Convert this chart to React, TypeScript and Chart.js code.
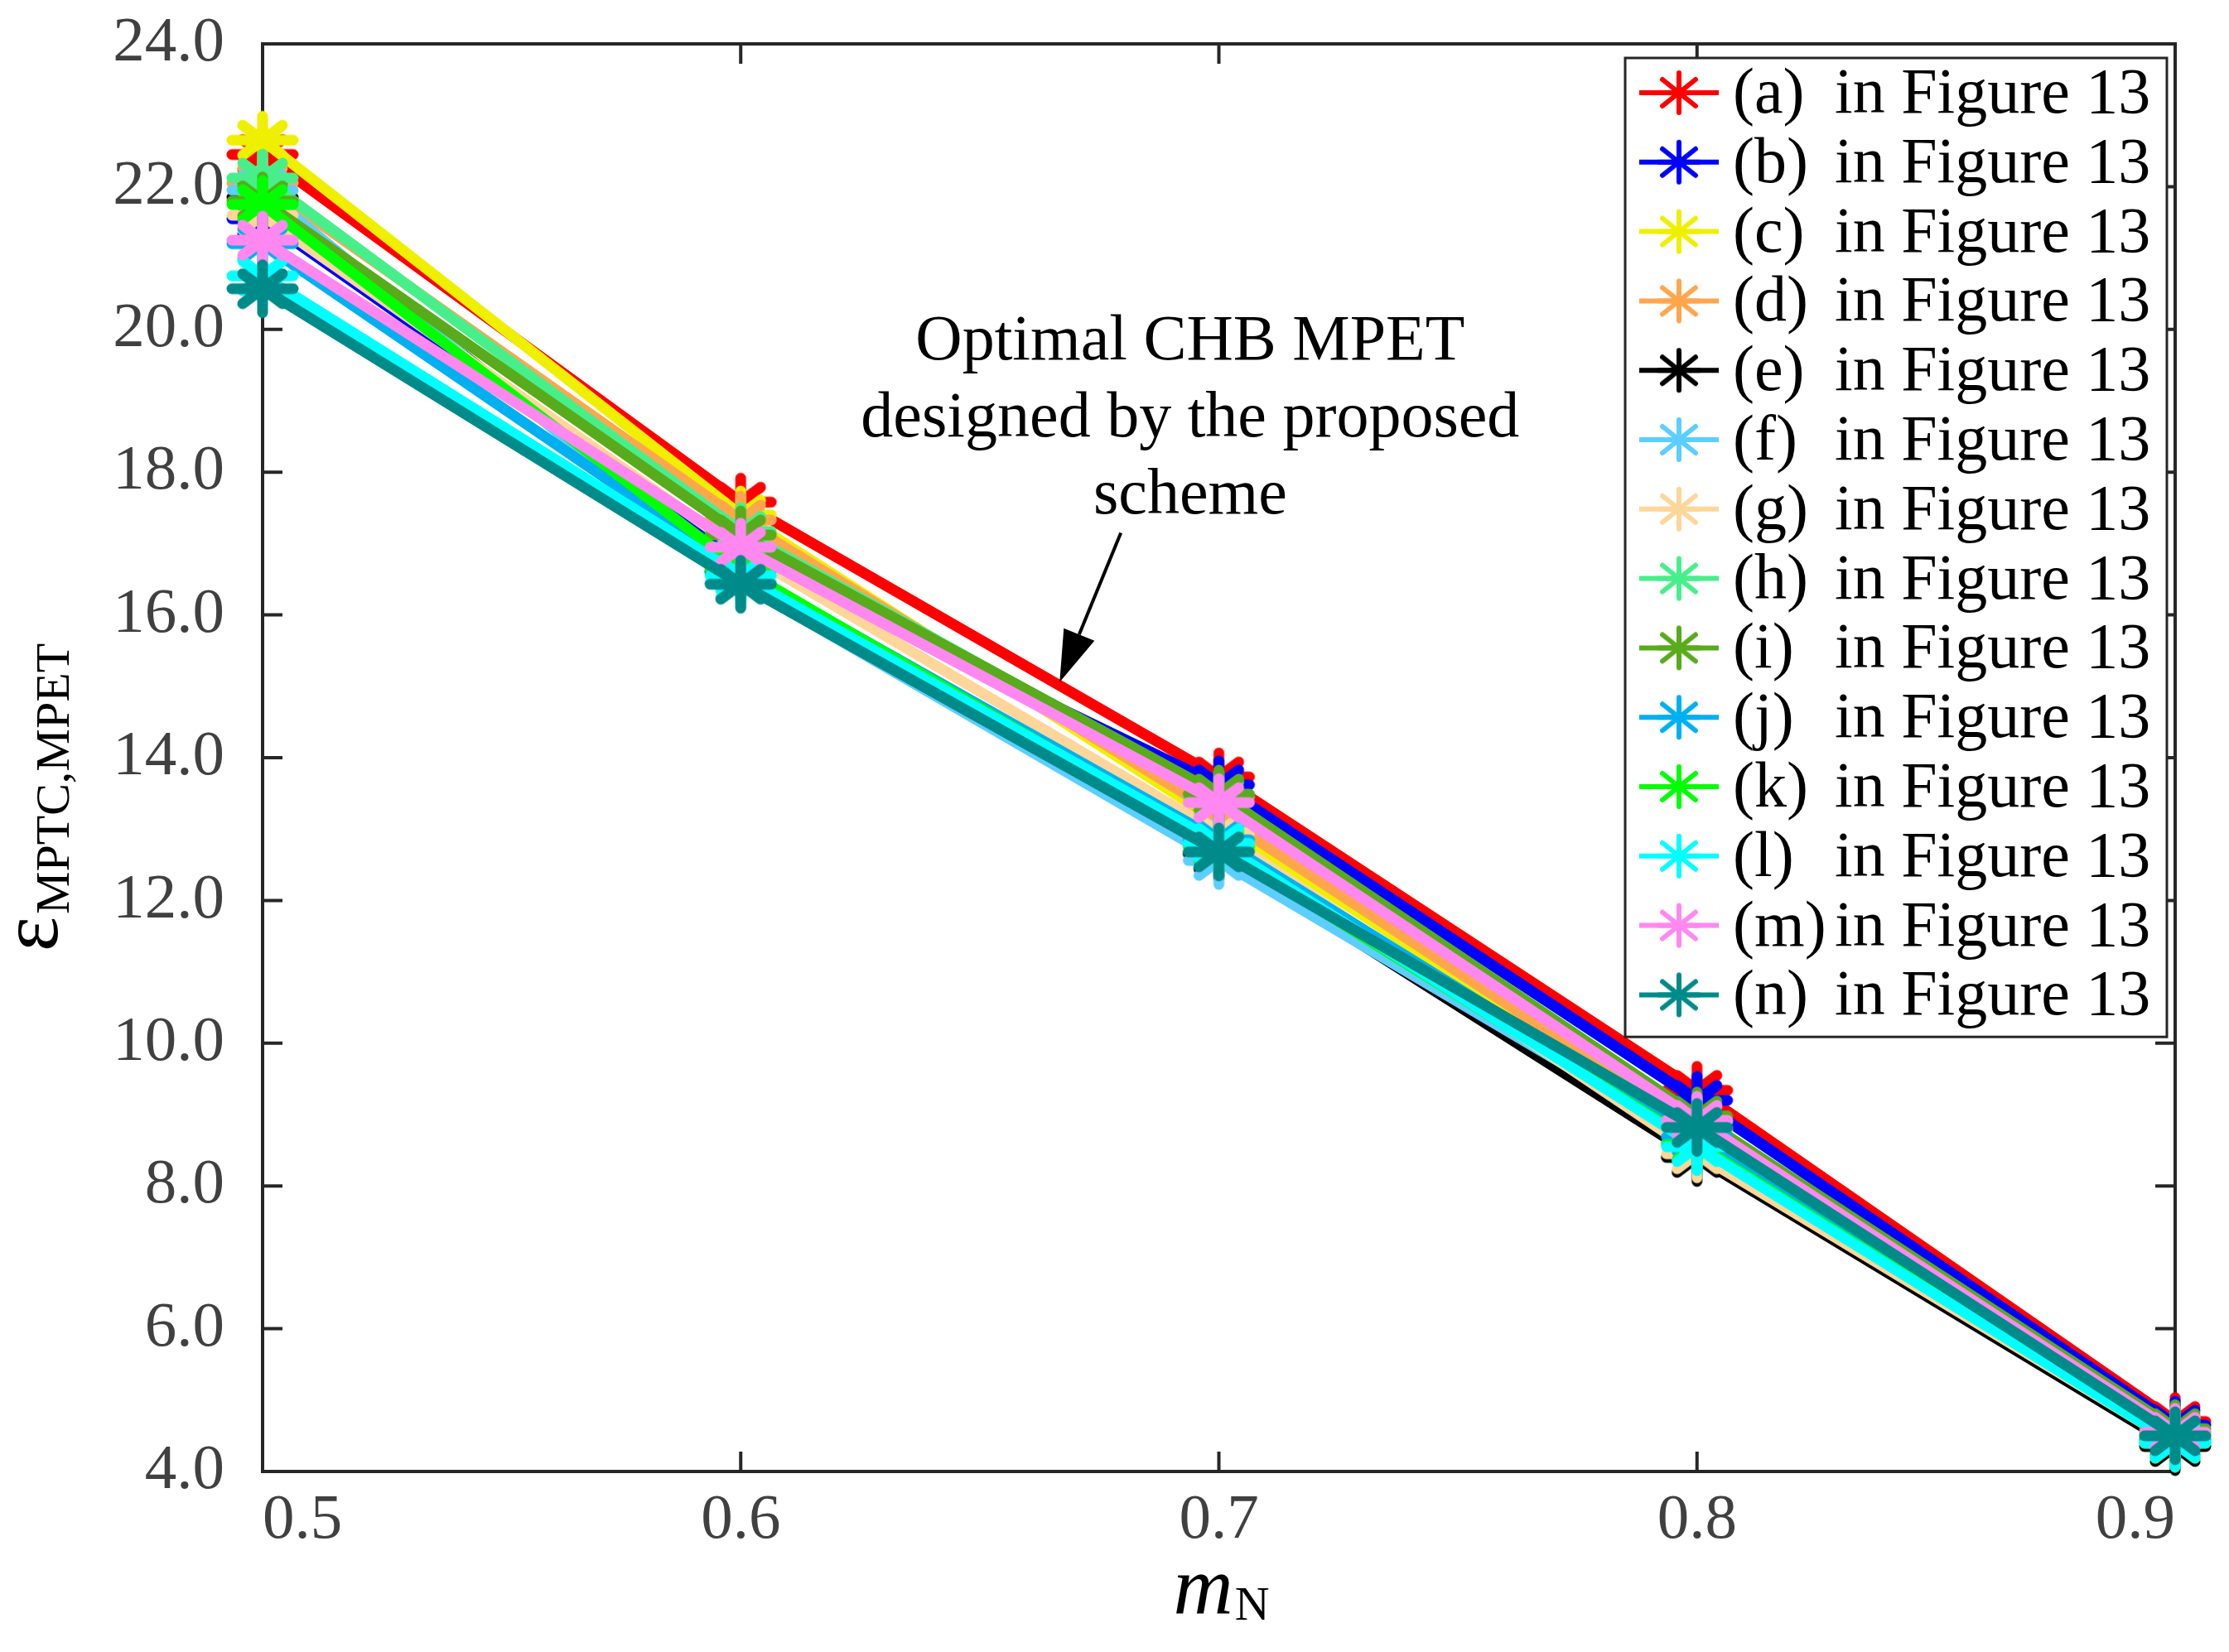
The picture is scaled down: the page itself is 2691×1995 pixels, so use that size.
import { useEffect, useRef } from 'react';
import { Chart, registerables } from 'chart.js';

Chart.register(...registerables);

// x positions (modulation index m_N)
const mN = [0.5, 0.6, 0.7, 0.8, 0.9];
const yTickValues = [4, 6, 8, 10, 12, 14, 16, 18, 20, 22, 24];

// epsilon_MPTC,MPET for each design of Figure 13
const curveA = [22.45, 17.58, 13.73, 9.34, 4.7];
const curveB = [21.55, 16.85, 13.62, 9.2, 4.65];
const curveC = [22.65, 17.4, 13.1, 8.75, 4.5];
const curveD = [22.05, 17.33, 13.2, 8.8, 4.55];
const curveE = [21.85, 16.6, 12.65, 8.4, 4.35];
const curveF = [21.95, 16.45, 12.56, 8.6, 4.45];
const curveG = [21.6, 16.9, 12.95, 8.45, 4.4];
const curveH = [22.12, 17.17, 13.45, 8.9, 4.55];
const curveI = [21.8, 17.12, 13.49, 8.98, 4.6];
const curveJ = [21.2, 16.62, 12.85, 8.69, 4.45];
const curveK = [21.75, 16.65, 12.75, 8.58, 4.4];
const curveL = [20.75, 16.55, 12.8, 8.55, 4.4];
const curveM = [21.25, 16.95, 13.37, 8.92, 4.55];
const curveN = [20.57, 16.43, 12.68, 8.82, 4.5];

const curves = [curveA, curveB, curveC, curveD, curveE, curveF, curveG, curveH, curveI, curveJ, curveK, curveL, curveM, curveN];
const seriesNames = ['(a)', '(b)', '(c)', '(d)', '(e)', '(f)', '(g)', '(h)', '(i)', '(j)', '(k)', '(l)', '(m)', '(n)'];
const legendSuffix = 'in Figure 13';

const colors = [
  '#ff0000', '#0000ff', '#efef00', '#ffa64d', '#000000', '#5bcfff', '#ffd699',
  '#47ef8b', '#58ab1b', '#00b0f0', '#00ff00', '#00ffff', '#ff88f0', '#008b8b',
];

// annotation (data coordinates)
const noteLines = ['Optimal CHB MPET', 'designed by the proposed', 'scheme'];
const noteAnchor = [0.694, 19.58];
const arrowTail = [0.6795, 17.15];
const arrowTip = [0.6667, 15.06];

const SERIF = '"Liberation Serif", "Times New Roman", serif';
const AXIS = '#262626';

function makeAsterisk(color: string, hx: number, vy: number, dx: number, dy: number, lw: number) {
  const pad = Math.ceil(lw / 2) + 1;
  const c = document.createElement('canvas');
  c.width = 2 * (hx + pad);
  c.height = 2 * (vy + pad);
  const g = c.getContext('2d')!;
  g.translate(c.width / 2, c.height / 2);
  g.strokeStyle = color;
  g.lineWidth = lw;
  g.lineCap = 'round';
  g.beginPath();
  g.moveTo(-hx, 0); g.lineTo(hx, 0);
  g.moveTo(0, -vy); g.lineTo(0, vy);
  g.moveTo(-dx, -dy); g.lineTo(dx, dy);
  g.moveTo(-dx, dy); g.lineTo(dx, -dy);
  g.stroke();
  return c;
}

export default function App() {
  const canvasRef = useRef<HTMLCanvasElement>(null);
  const chartRef = useRef<Chart | null>(null);

  useEffect(() => {
    if (!canvasRef.current) return;
    if (chartRef.current) chartRef.current.destroy();
    const ctx = canvasRef.current.getContext('2d');
    if (!ctx) return;

    const plotStars = colors.map(c => makeAsterisk(c, 37, 29, 24, 18, 13));
    const legendStars = colors.map(c => makeAsterisk(c, 24, 24, 20, 16, 6));

    // box + inward ticks, drawn under the curves
    const framePlugin = {
      id: 'frame',
      beforeDatasetsDraw(chart: any) {
        const { ctx: c, chartArea: a, scales } = chart;
        const tl = 24;
        c.save();
        c.strokeStyle = AXIS;
        c.lineWidth = 4;
        c.strokeRect(a.left, a.top, a.right - a.left, a.bottom - a.top);
        c.beginPath();
        mN.forEach(v => {
          const px = scales.x.getPixelForValue(v);
          c.moveTo(px, a.bottom); c.lineTo(px, a.bottom - tl);
          c.moveTo(px, a.top); c.lineTo(px, a.top + tl);
        });
        yTickValues.forEach(v => {
          const py = scales.y.getPixelForValue(v);
          c.moveTo(a.left, py); c.lineTo(a.left + tl, py);
          c.moveTo(a.right, py); c.lineTo(a.right - tl, py);
        });
        c.stroke();
        c.restore();
      },
    };

    // legend box in the upper right corner
    const legendPlugin = {
      id: 'boxLegend',
      afterDatasetsDraw(chart: any) {
        const { ctx: c, chartArea: a } = chart;
        const right = a.right - 10;
        const left = right - 654;
        const top = a.top + 17;
        const rowH = 83.8;
        const n = chart.data.datasets.length;
        const bottom = top + 9 + n * rowH;
        c.save();
        c.fillStyle = '#ffffff';
        c.fillRect(left, top, right - left, bottom - top);
        c.strokeStyle = AXIS;
        c.lineWidth = 3;
        c.strokeRect(left, top, right - left, bottom - top);
        c.font = `78px ${SERIF}`;
        c.fillStyle = '#000000';
        c.textBaseline = 'alphabetic';
        c.textAlign = 'left';
        chart.data.datasets.forEach((ds: any, i: number) => {
          const cy = top + 42 + i * rowH;
          c.strokeStyle = ds.borderColor;
          c.lineWidth = 6;
          c.lineCap = 'butt';
          c.beginPath();
          c.moveTo(left + 17, cy);
          c.lineTo(left + 113, cy);
          c.stroke();
          const s = legendStars[i];
          c.drawImage(s, left + 65 - s.width / 2, cy - s.height / 2);
          const label: string = ds.label;
          const cut = label.indexOf(' ');
          c.fillText(label.slice(0, cut), left + 130, cy + 24);
          c.fillText(label.slice(cut + 1), left + 253, cy + 24);
        });
        c.restore();
      },
    };

    // axis titles and the arrow annotation
    const textPlugin = {
      id: 'texts',
      afterDraw(chart: any) {
        const { ctx: c, chartArea: a, scales } = chart;
        c.save();
        c.fillStyle = '#000000';
        c.textBaseline = 'alphabetic';
        c.textAlign = 'left';

        // x title: m_N
        c.font = `italic 100px ${SERIF}`;
        const wm = c.measureText('m').width;
        c.font = `58px ${SERIF}`;
        const wn = c.measureText('N').width;
        const x0 = (a.left + a.right) / 2 + 3 - (wm + wn + 2) / 2;
        const yb = a.bottom + 171;
        c.font = `italic 100px ${SERIF}`;
        c.fillText('m', x0, yb);
        c.font = `58px ${SERIF}`;
        c.fillText('N', x0 + wm + 2, yb + 8);

        // y title: epsilon_MPTC,MPET
        c.font = `100px ${SERIF}`;
        const we = c.measureText('ε').width;
        c.font = `58px ${SERIF}`;
        const ws = c.measureText('MPTC,MPET').width;
        const total = we + 3 + ws;
        const cy = (a.top + a.bottom) / 2 + 48;
        c.translate(a.left - 248, cy + total / 2);
        c.rotate(-Math.PI / 2);
        c.font = `100px ${SERIF}`;
        c.fillText('ε', 0, 0);
        c.font = `58px ${SERIF}`;
        c.fillText('MPTC,MPET', we + 3, 14);
        c.setTransform(1, 0, 0, 1, 0, 0);

        // annotation text
        c.font = `78px ${SERIF}`;
        c.textAlign = 'center';
        const nx = scales.x.getPixelForValue(noteAnchor[0]);
        const ny = scales.y.getPixelForValue(noteAnchor[1]);
        noteLines.forEach((t, i) => c.fillText(t, nx, ny + i * 93));

        // arrow
        const tx = scales.x.getPixelForValue(arrowTail[0]);
        const ty = scales.y.getPixelForValue(arrowTail[1]);
        const hx = scales.x.getPixelForValue(arrowTip[0]);
        const hy = scales.y.getPixelForValue(arrowTip[1]);
        const ang = Math.atan2(hy - ty, hx - tx);
        const headL = 62;
        const headW = 20;
        const bx = hx - headL * Math.cos(ang);
        const by = hy - headL * Math.sin(ang);
        c.strokeStyle = '#000000';
        c.lineWidth = 4;
        c.beginPath();
        c.moveTo(tx, ty);
        c.lineTo(bx, by);
        c.stroke();
        c.beginPath();
        c.moveTo(hx, hy);
        c.lineTo(bx + headW * Math.sin(ang), by - headW * Math.cos(ang));
        c.lineTo(bx - headW * Math.sin(ang), by + headW * Math.cos(ang));
        c.closePath();
        c.fill();
        c.restore();
      },
    };

    chartRef.current = new Chart(ctx, {
      type: 'line',
      data: {
        datasets: curves.map((vals, i) => ({
          label: `${seriesNames[i]} ${legendSuffix}`,
          data: vals.map((v, k) => ({ x: mN[k], y: v })),
          borderColor: colors[i],
          backgroundColor: colors[i],
          borderWidth: 13,
          borderJoinStyle: 'round' as const,
          borderCapStyle: 'round' as const,
          pointStyle: plotStars[i],
          pointRadius: 40,
          pointHoverRadius: 40,
          tension: 0,
          clip: false as any,
          order: curves.length - 1 - i,
        })),
      },
      options: {
        responsive: false,
        animation: false,
        devicePixelRatio: 1,
        layout: { padding: { top: 50, right: 65, left: 0, bottom: 0 } },
        plugins: {
          legend: { display: false },
          tooltip: { enabled: false },
          title: { display: false },
        },
        scales: {
          x: {
            type: 'linear',
            min: 0.5,
            max: 0.9,
            afterBuildTicks: (s: any) => { s.ticks = mN.map(v => ({ value: v })); },
            afterFit: (s: any) => { s.height = 218; s.paddingLeft = 0; s.paddingRight = 0; },
            grid: { display: false, drawTicks: false },
            border: { display: false },
            ticks: {
              align: 'inner',
              autoSkip: false,
              maxRotation: 0,
              padding: 14,
              color: '#404040',
              font: { family: SERIF, size: 77 },
              callback: (v: any) => Number(v).toFixed(1),
            },
          },
          y: {
            type: 'linear',
            min: 4,
            max: 24,
            afterBuildTicks: (s: any) => { s.ticks = yTickValues.map(v => ({ value: v })); },
            afterFit: (s: any) => { s.width = 317; s.paddingTop = 0; s.paddingBottom = 0; },
            grid: { display: false, drawTicks: false },
            border: { display: false },
            ticks: {
              autoSkip: false,
              padding: 46,
              color: '#404040',
              font: { family: SERIF, size: 77 },
              callback: (v: any) => Number(v).toFixed(1),
            },
          },
        },
      },
      plugins: [framePlugin, legendPlugin, textPlugin],
    } as any);

    return () => {
      if (chartRef.current) {
        chartRef.current.destroy();
        chartRef.current = null;
      }
    };
  }, []);

  return (
    <div style={{ position: 'absolute', left: 0, top: 0, width: 2691, height: 1995, background: '#ffffff' }}>
      <canvas ref={canvasRef} width={2691} height={1995} style={{ width: 2691, height: 1995 }}></canvas>
    </div>
  );
}
